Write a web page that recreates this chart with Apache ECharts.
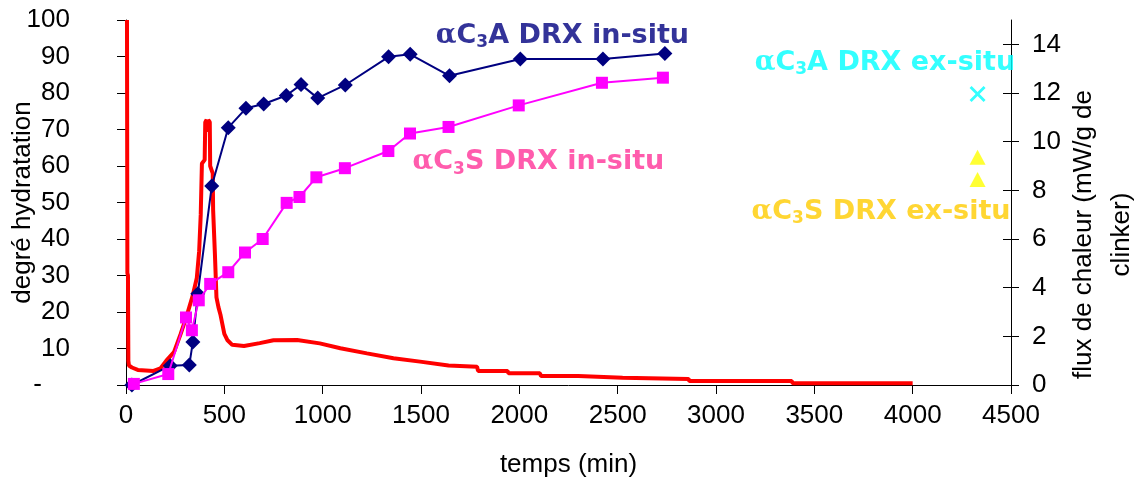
<!DOCTYPE html>
<html><head><meta charset="utf-8">
<script src="https://cdn.jsdelivr.net/npm/echarts@6/dist/echarts.min.js"></script>
<style>html,body{margin:0;padding:0;background:#fff}#c{width:1136px;height:480px}</style>
</head><body><div id="c"></div>
<script>
// ---- data ----
const c3aTime = [30,225,322,340,365,436,520,610,700,815,890,975,1115,1335,1445,1645,2005,2425,2740];
const c3aDeg  = [0,5.3,5.5,11.8,25,54.5,70.5,75.8,77,79.3,82.3,78.6,82.2,89.9,90.6,84.7,89.3,89.3,90.8];
const c3sTime = [40,215,305,335,370,428,520,605,695,817,882,968,1113,1334,1444,1640,1997,2420,2730];
const c3sDeg  = [0.3,3,18.5,15,23.2,27.7,30.9,36.3,40,49.9,51.5,56.9,59.4,64.1,68.9,70.7,76.6,82.8,84.2];
const exTime = [4330];
const exC3A = [79.7];
const exC3S = [62.4, 56.3];
const fluxTime = [5,7,10,12,15,30,60,100,140,175,205,244,278,311,340,360,372,380,386,400,403,410,414,418,426,428,441,443,452,460,470,480,490,500,515,540,600,680,750,870,985,1090,1225,1360,1495,1640,1785,1790,1940,1945,2105,2110,2300,2305,2525,2530,2860,2865,3385,3390,4000];
const fluxVal  = [15,4.6,4.5,1.0,0.8,0.72,0.62,0.6,0.58,0.68,1.0,1.35,2.1,2.9,3.7,4.4,5.5,7.0,9.1,9.25,10.8,10.9,10.4,10.9,10.8,9.0,8.7,7.2,5.4,3.6,3.2,2.9,2.5,2.1,1.85,1.65,1.6,1.72,1.84,1.85,1.71,1.51,1.3,1.1,0.96,0.8,0.75,0.58,0.58,0.48,0.48,0.37,0.37,0.3,0.3,0.25,0.25,0.16,0.16,0.07,0.07];
const leftTicks = [0,10,20,30,40,50,60,70,80,90,100];
const rightTicks = [0,2,4,6,8,10,12,14];
const xTicks = [0,500,1000,1500,2000,2500,3000,3500,4000,4500];
const labelTexts = ['C3A DRX in-situ','C3S DRX in-situ','C3A DRX ex-situ','C3S DRX ex-situ'];

// ---- chart ----
const F = '"Liberation Sans", Arial, sans-serif';
const B = '"DejaVu Sans", sans-serif';
const zip = (a, b) => a.map((v, i) => [v, b[i]]);
function richLabel(t) { // 'C3A ...' -> alpha + C + subscript 3 + rest
  return '{a|α}C{s|3}' + t.slice(2);
}
const richStyles = {
  a: {fontFamily: '"DejaVu Serif", serif', fontSize: 27, fontWeight: 'bold'},
  s: {fontFamily: B, fontSize: 17, fontWeight: 'bold', padding: [14, 0, 0, 0]}
};
const annColors = ['#000080', '#FF3399', '#00FFFF', '#FFCC00'];
const annAnchor = [[2219, 95.6], [2097, 61], [3859, 88.3], [3839, 47.4]];

const chart = echarts.init(document.getElementById('c'), null, {renderer: 'canvas'});
const axisBase = {
  axisLine: {show: true, lineStyle: {color: '#000', width: 1}},
  splitLine: {show: false},
  nameMoveOverlap: false
};
chart.setOption({
  animation: false,
  backgroundColor: '#fff',
  grid: {left: 126, right: 125, top: 20, bottom: 95, containLabel: false, outerBoundsMode: 'none'},
  xAxis: Object.assign({}, axisBase, {
    type: 'value', min: 0, max: 4500, interval: 500,
    name: 'temps (min)', nameLocation: 'middle', nameGap: 67,
    nameTextStyle: {fontFamily: F, fontSize: 26, color: '#000'},
    axisTick: {show: true, length: 9, lineStyle: {color: '#000'}},
    axisLabel: {fontFamily: F, fontSize: 26, color: '#000', margin: 18,
      customValues: xTicks, formatter: v => String(v)}
  }),
  yAxis: [
    Object.assign({}, axisBase, {
      type: 'value', min: 0, max: 100, interval: 10, position: 'left',
      name: 'degré hydratation', nameLocation: 'middle', nameGap: 90,
      nameTextStyle: {fontFamily: F, fontSize: 26, color: '#000'},
      axisTick: {show: true, length: 9, lineStyle: {color: '#000'}},
      axisLabel: {fontFamily: F, fontSize: 26, color: '#000', margin: 56,
        customValues: leftTicks,
        formatter: v => v === 0 ? '{d|-}' : String(v),
        rich: {d: {fontFamily: F, fontSize: 26, color: '#000', padding: [0, 28, 0, 0]}}}
    }),
    Object.assign({}, axisBase, {
      type: 'value', min: 0, max: 15, position: 'right',
      name: 'flux de chaleur (mW/g de\nclinker)', nameLocation: 'middle', nameGap: 54,
      nameTextStyle: {fontFamily: F, fontSize: 26, color: '#000', lineHeight: 38,
        padding: [0, 64, 0, 0]},
      axisTick: {show: true, length: 8, lineStyle: {color: '#000'}, customValues: rightTicks},
      axisLabel: {fontFamily: F, fontSize: 26, color: '#000', margin: 21, customValues: rightTicks}
    }),
    {
      type: 'value', min: 0, max: 15, position: 'right',
      axisLine: {show: false}, splitLine: {show: false},
      axisTick: {show: true, inside: true, length: 8, lineStyle: {color: '#000'}, customValues: rightTicks},
      axisLabel: {show: false}
    }
  ],
  series: [
    {
      name: 'flux', type: 'line', yAxisIndex: 1, data: zip(fluxTime, fluxVal),
      symbol: 'none', lineStyle: {color: '#FF0000', width: 4}, z: 2
    },
    {
      name: 'C3A in-situ', type: 'line', yAxisIndex: 0, data: zip(c3aTime, c3aDeg),
      symbol: 'diamond', symbolSize: 15, itemStyle: {color: '#000080'},
      lineStyle: {color: '#000080', width: 2}, z: 3
    },
    {
      name: 'C3S in-situ', type: 'line', yAxisIndex: 0, data: zip(c3sTime, c3sDeg),
      symbol: 'rect', symbolSize: 12, itemStyle: {color: '#FF00FF'},
      lineStyle: {color: '#FF00FF', width: 2}, z: 4
    },
    {
      name: 'C3A ex-situ', type: 'scatter', yAxisIndex: 0,
      data: exC3A.map(v => [exTime[0], v]),
      symbol: 'path://M0,2 L2,0 L8,6 L14,0 L16,2 L10,8 L16,14 L14,16 L8,10 L2,16 L0,14 L6,8 Z',
      symbolSize: 16, itemStyle: {color: '#00FFFF'}, z: 5
    },
    {
      name: 'C3S ex-situ', type: 'scatter', yAxisIndex: 0,
      data: exC3S.map(v => [exTime[0], v]),
      symbol: 'triangle', symbolSize: [16, 15], itemStyle: {color: '#FFFF00'}, z: 5
    },
    {
      name: 'labels', type: 'scatter', yAxisIndex: 0, symbolSize: 1, silent: true,
      itemStyle: {color: 'rgba(0,0,0,0)'}, z: 6,
      data: labelTexts.map((t, i) => ({
        value: annAnchor[i],
        label: {show: true, position: 'inside', formatter: richLabel(t),
          fontFamily: B, fontWeight: 'bold', fontSize: 27, color: annColors[i],
          rich: richStyles}
      }))
    }
  ]
});
</script></body></html>
